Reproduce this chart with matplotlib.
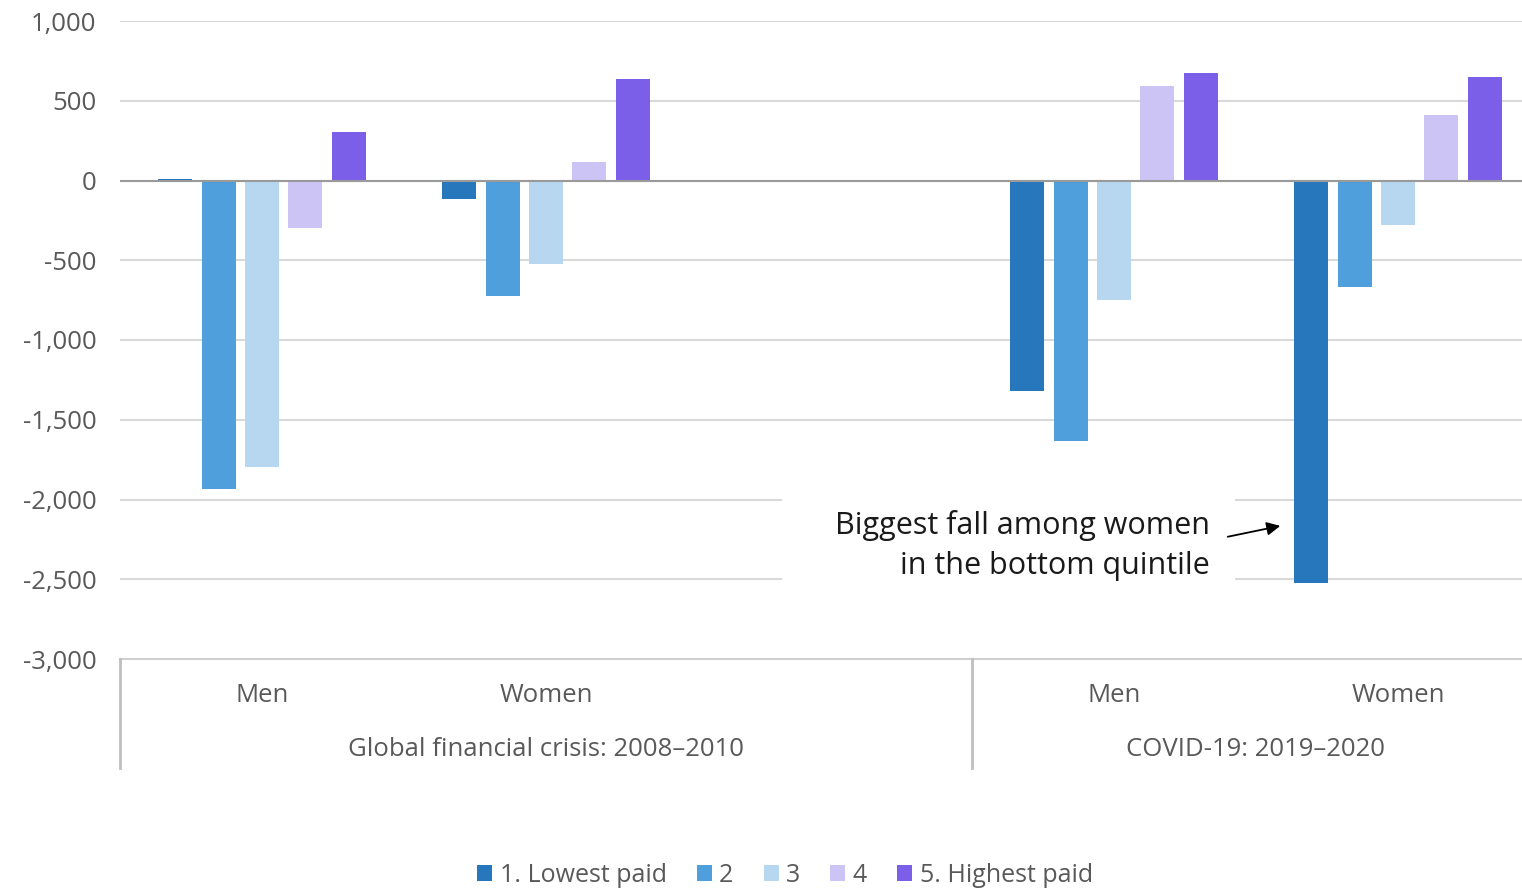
import numpy as np
import matplotlib.pyplot as plt
from matplotlib.patches import Rectangle
from matplotlib.lines import Line2D

plt.rcParams['font.family'] = ['Open Sans', 'DejaVu Sans']

# data
categories = ['Men', 'Women', '', 'Men', 'Women']
groups = ['Global financial crisis: 2008\u20132010', 'COVID-19: 2019\u20132020']
series = ['1. Lowest paid', '2', '3', '4', '5. Highest paid']
q1 = [10, -119, 0, -1322, -2525]
q2 = [-1936, -727, 0, -1635, -670]
q3 = [-1798, -526, 0, -752, -276]
q4 = [-295, 113, 0, 595, 413]
q5 = [307, 639, 0, 677, 652]
values = [q1, q2, q3, q4, q5]
colors = ['#2677BC', '#4E9FDB', '#B7D7F0', '#CCC4F4', '#7B5FE8']

fig = plt.figure(figsize=(15.22, 8.89), dpi=100)
ax = fig.add_axes([120/1522, 1-659/889, 1420/1522, (659-21)/889])

x = np.arange(len(categories))
step = 0.153
w = 0.12
for i, vals in enumerate(values):
    v = np.array(vals, dtype=float)
    mask = np.array([c != '' for c in categories])
    ax.bar(x[mask] + (i-2)*step, v[mask], width=w, color=colors[i], zorder=2, label=series[i])

ax.set_xlim(-0.5, 4.5)
ax.set_ylim(-3000, 1000)
ax.set_yticks(np.arange(-3000, 1001, 500))
ax.set_yticklabels([f'{t:,}' for t in range(-3000, 1001, 500)])
ax.yaxis.grid(True, color='#d9d9d9', linewidth=1.5, zorder=0)
ax.set_axisbelow(True)
ax.axhline(0, color='#9a9a9a', linewidth=1.5, zorder=3)
for s in ax.spines.values():
    s.set_visible(False)
ax.tick_params(axis='y', length=0, labelsize=18.5, labelcolor='#595959', pad=17)
ax.set_xticks([])

# bottom axis line and category labels
trans = ax.get_xaxis_transform()
ax.plot([-0.5, 4.5], [0, 0], transform=trans, color='#d0d0d0', linewidth=1.5, clip_on=False)
for xc in [-0.5, 2.5]:
    ax.add_line(Line2D([xc, xc], [0, -(768-659)/638], transform=trans, color='#bfbfbf',
                       linewidth=2, clip_on=False))
for xi, c in zip(x, categories):
    if c:
        ax.text(xi, -(696-659)/638, c, transform=trans, ha='center', va='center',
                fontsize=18.5, color='#595959')
ax.text(1.0, -(749-659)/638, groups[0], transform=trans, ha='center', va='center',
        fontsize=18.5, color='#595959')
ax.text(3.5, -(749-659)/638, groups[1], transform=trans, ha='center', va='center',
        fontsize=18.5, color='#595959')

# annotation
ax.add_patch(Rectangle((1.831, -2538), 3.426-1.831, 2538-1974, facecolor='white',
                       edgecolor='none', zorder=1))
ax.text(3.338, -2290, 'Biggest fall among women\nin the bottom quintile', ha='right',
        va='center', fontsize=22, color='#1a1a1a', linespacing=1.45, zorder=4)
ax.annotate('', xy=(3.595, -2162), xytext=(3.391, -2237),
            arrowprops=dict(arrowstyle='-|>', color='black', lw=1.3, mutation_scale=20), zorder=4)

fig.legend(loc='center', bbox_to_anchor=(785/1522, 1-875/889), ncol=5, frameon=False,
           fontsize=18, handlelength=0.6, handleheight=0.6, handletextpad=0.3,
           columnspacing=1.2, labelcolor='#595959')

fig.savefig('out.png', dpi=100)
